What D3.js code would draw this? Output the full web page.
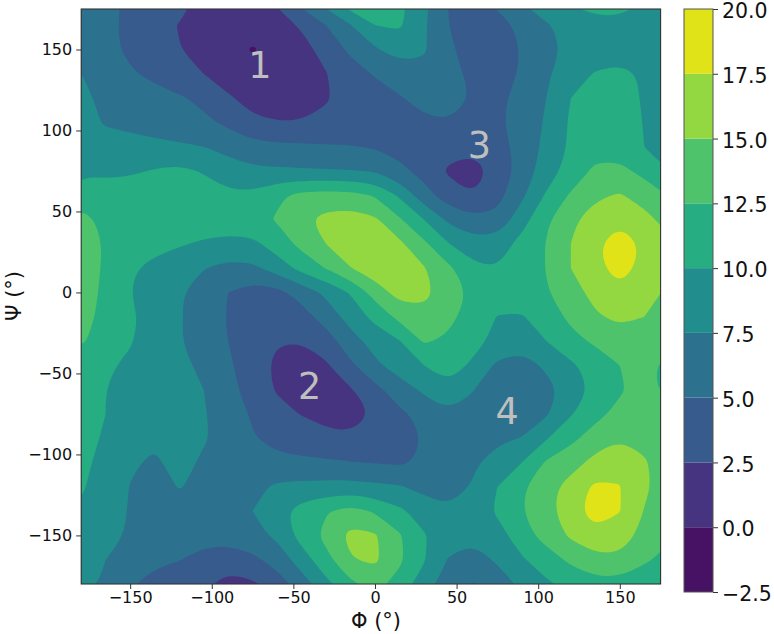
<!DOCTYPE html>
<html>
<head>
<meta charset="utf-8">
<script src="https://cdn.jsdelivr.net/npm/d3@7"></script>
<style>
  html, body { margin: 0; padding: 0; background: #fff; }
  text { font-family: "DejaVu Sans", sans-serif; fill: #111; }
  .tick line, .domain { stroke: #333; }
</style>
</head>
<body>
<div id="chart"></div>
<script>
// Grid axes, one value every 15 degrees
const phi = d3.range(-180, 181, 15);
const psi = d3.range(180, -181, -15);

// Energy, one row per psi (180 down to -180), one column per phi
const energy = [
  [6.3,5.7,4.6,3.8,3.4,1.8,1.0,1.0,2.9,6.0,8.7,11.9,11.9,10.7,8.2,5.0,3.6,6.0,7.6,9.1,10.4,11.7,11.2,10.0,9.5],
  [6.5,5.5,4.5,3.2,2.4,1.5,1.0,0.7,1.5,2.8,5.0,7.4,10.0,10.4,7.8,5.0,3.7,3.6,5.8,7.3,8.2,8.8,9.3,9.2,9.0],
  [6.8,5.7,4.5,3.3,2.6,1.3,0.6,-0.14,0.5,1.7,3.3,5.5,7.2,8.5,7.8,5.5,3.8,3.2,5.2,6.8,8.0,8.5,8.7,8.8,8.8],
  [7.5,6.3,5.3,4.4,3.2,2.5,1.3,0.6,0.5,1.0,2.4,3.9,5.2,6.3,6.8,5.8,4.4,3.6,5.3,7.2,8.8,10.2,10.7,9.7,9.2],
  [8.0,7.0,6.4,5.9,5.3,4.4,2.8,1.7,1.1,1.2,2.3,3.3,3.9,4.8,5.8,6.1,4.9,4.4,5.9,7.5,10.0,11.3,10.8,9.8,9.0],
  [8.2,7.3,7.0,6.6,6.2,5.5,4.5,2.9,2.6,2.6,3.0,3.7,4.1,4.4,4.6,4.9,4.9,4.6,6.0,7.8,10.4,11.6,11.2,9.9,8.9],
  [8.4,8.3,8.2,8.0,7.8,7.5,6.6,5.8,5.5,5.4,5.2,5.1,4.8,4.2,3.6,3.2,3.1,3.9,6.0,8.1,10.4,11.6,11.4,10.0,9.0],
  [9.7,9.4,9.6,10.2,10.6,9.8,8.8,8.0,7.9,7.8,7.7,7.6,7.4,5.6,4.2,2.2,1.4,3.2,6.0,8.8,11.0,13.0,13.1,11.8,10.0],
  [11.2,11.3,11.6,11.7,11.9,11.2,10.4,10.5,12.1,13.2,13.4,13.3,12.3,9.6,6.0,3.6,2.5,4.2,7.0,10.3,12.8,14.6,15.2,14.0,12.4],
  [13.4,11.8,11.6,11.6,11.6,11.6,11.5,11.8,12.7,14.5,15.8,16.1,15.4,12.8,10.0,7.0,5.5,5.6,9.0,12.1,14.6,16.0,17.0,15.8,14.0],
  [14.1,12.2,11.2,10.8,10.3,9.6,9.2,9.4,11.2,13.2,15.0,16.9,17.2,15.5,13.0,10.1,8.5,8.8,10.8,12.6,15.0,17.1,19.0,17.1,15.6],
  [14.0,12.1,10.3,9.3,8.0,7.6,6.8,7.0,8.6,10.8,12.6,14.9,16.6,16.4,15.2,13.0,10.6,10.0,11.0,12.6,15.0,16.9,18.5,16.8,15.5],
  [13.6,12.0,10.0,8.6,7.7,6.4,5.0,3.8,4.3,6.0,8.0,10.2,13.5,16.1,15.6,14.0,12.0,11.0,11.3,12.3,14.0,15.8,16.9,16.4,14.4],
  [13.4,11.8,10.5,9.0,7.7,6.5,4.8,3.6,2.9,3.9,6.2,8.4,10.8,13.2,14.4,13.1,11.5,9.9,9.8,11.3,13.0,14.7,15.5,15.0,13.7],
  [12.8,11.5,10.2,8.6,7.7,6.0,5.0,3.2,2.6,2.6,3.7,6.6,8.4,9.9,12.8,12.1,10.8,9.3,8.8,10.0,11.8,12.9,14.0,14.3,13.5],
  [11.0,10.3,9.6,8.7,8.2,6.9,5.4,3.6,2.0,0.9,2.2,4.5,7.0,8.7,10.0,11.0,9.6,7.0,6.2,8.0,9.6,11.0,12.5,13.2,11.7],
  [10.7,10.0,9.3,8.9,8.3,7.5,6.0,3.7,2.3,1.2,1.0,2.3,4.3,6.2,8.0,9.5,7.6,5.8,5.6,6.6,8.6,10.5,12.2,13.4,11.7],
  [10.6,10.0,9.7,9.2,8.9,7.7,6.3,4.7,3.2,2.4,1.5,1.3,2.7,4.6,5.6,7.2,6.8,6.2,5.7,7.2,9.8,11.8,13.2,14.0,14.0],
  [10.3,9.9,9.0,8.0,8.4,7.8,6.4,5.2,4.1,3.9,3.3,2.9,2.8,3.8,5.1,6.0,6.3,6.9,7.6,9.8,11.9,13.6,14.9,14.5,14.0],
  [10.3,9.6,7.9,7.0,8.6,7.0,6.3,5.8,5.7,5.4,5.3,5.1,4.9,4.6,5.4,6.0,7.0,8.8,10.0,12.8,14.0,15.8,16.8,15.2,14.0],
  [10.2,9.2,7.4,6.7,7.6,7.1,6.4,6.9,7.9,8.2,8.3,8.4,8.0,7.7,6.8,6.1,7.8,10.0,12.2,14.2,15.9,18.0,17.6,15.4,13.9],
  [9.8,8.8,7.3,6.8,6.5,6.3,6.2,7.5,9.2,11.0,12.3,13.5,12.2,10.5,8.9,7.9,8.4,10.4,12.4,14.4,16.2,19.2,17.6,14.9,13.4],
  [9.8,8.4,7.2,6.8,6.4,6.0,6.2,6.7,8.0,11.0,13.2,15.7,15.3,12.8,10.2,8.8,8.2,8.9,11.5,13.5,15.4,16.6,16.0,14.4,13.0],
  [9.4,7.5,6.3,5.5,5.1,4.0,3.3,4.4,6.0,8.7,11.7,14.8,15.5,13.0,10.2,7.3,6.2,7.9,9.7,11.3,13.0,14.4,14.6,13.0,11.5],
  [8.9,6.9,5.2,4.2,3.2,2.9,1.9,2.1,3.8,6.3,9.3,12.0,13.4,11.5,8.8,6.2,4.9,6.2,8.0,9.6,10.8,11.6,11.6,10.4,9.6]
];

// Contour levels and one colour per band
const levels = [-2.5, 0, 2.5, 5, 7.5, 10, 12.5, 15, 17.5, 20];
const bandColors = ["#471164", "#463480", "#375b8d", "#2c728e", "#218e8d", "#26ad81", "#4fc36b", "#94d841", "#dfe318"];
const tickPhi = [-150, -100, -50, 0, 50, 100, 150];
const tickPsi = [-150, -100, -50, 0, 50, 100, 150];
const tickBar = [-2.5, 0, 2.5, 5, 7.5, 10, 12.5, 15, 17.5, 20];

// Numbered basins
const basinNames = ["1", "2", "3", "4"];
const basinPhi = [-70.5, -40, 64, 81];
const basinPsi = [132.4, -66, 83, -81];

const width = 774, height = 634;
const plot = {left: 81.2, right: 660.6, top: 9, bottom: 584};
const bar = {left: 684, right: 713, top: 9, bottom: 592};

const svg = d3.select("#chart").append("svg")
    .attr("width", width)
    .attr("height", height)
    .style("display", "block");

const x = d3.scaleLinear().domain([-180, 175]).range([plot.left, plot.right]);
const y = d3.scaleLinear().domain([-180, 175]).range([plot.bottom, plot.top]);
const barScale = d3.scaleLinear().domain([-2.5, 20]).range([bar.bottom, bar.top]);

svg.append("clipPath").attr("id", "plot-clip")
  .append("rect")
    .attr("x", plot.left)
    .attr("y", plot.top)
    .attr("width", plot.right - plot.left)
    .attr("height", plot.bottom - plot.top);

// d3.contours puts a grid value at the centre of its cell, hence the 0.5
const gridX = g => x(phi[0] + (g - 0.5) * 15);
const gridY = g => y(psi[0] - (g - 0.5) * 15);

const contours = d3.contours()
    .size([phi.length, psi.length])
    .thresholds(levels.slice(0, -1))(energy.flat());

// Rounded off so the 15 degree cells do not show as corners
const ringPath = d3.line()
    .x(p => gridX(p[0]))
    .y(p => gridY(p[1]))
    .curve(d3.curveBasisClosed);

svg.append("g")
    .attr("clip-path", "url(#plot-clip)")
  .selectAll("path")
  .data(contours)
  .join("path")
    .attr("fill", (d, i) => bandColors[i])
    .attr("fill-rule", "evenodd")
    .attr("d", d => d.coordinates
      .flatMap(polygon => polygon.map(ring => ringPath(ring.slice(0, -1))))
      .join(""));

// Basin labels
svg.append("g").selectAll("text")
  .data(basinNames)
  .join("text")
    .attr("x", (d, i) => x(basinPhi[i]))
    .attr("y", (d, i) => y(basinPsi[i]))
    .attr("text-anchor", "middle")
    .attr("font-size", 36.5)
    .style("fill", "#bfbfbf")
    .text(d => d);

// Axes
const xAxis = svg.append("g")
    .attr("transform", `translate(0,${plot.bottom})`)
    .call(d3.axisBottom(x).tickValues(tickPhi).tickSizeOuter(0).tickSize(5).tickPadding(3));
const yAxis = svg.append("g")
    .attr("transform", `translate(${plot.left},0)`)
    .call(d3.axisLeft(y).tickValues(tickPsi).tickSizeOuter(0).tickSize(5).tickPadding(4));
[xAxis, yAxis].forEach(a => {
  a.attr("font-family", null).attr("font-size", null);
  a.selectAll("text").attr("font-size", 16);
  a.select(".domain").remove();
});

svg.append("rect")
    .attr("x", plot.left)
    .attr("y", plot.top)
    .attr("width", plot.right - plot.left)
    .attr("height", plot.bottom - plot.top)
    .attr("fill", "none")
    .attr("stroke", "#333")
    .attr("stroke-width", 1.1);

svg.append("text")
    .attr("x", 376)
    .attr("y", 628)
    .attr("text-anchor", "middle")
    .attr("font-size", 21)
    .text("Φ (°)");

svg.append("text")
    .attr("transform", "translate(21,296) rotate(-90)")
    .attr("text-anchor", "middle")
    .attr("font-size", 21)
    .text("Ψ (°)");

// Colorbar
svg.append("g").selectAll("rect")
  .data(bandColors)
  .join("rect")
    .attr("x", bar.left)
    .attr("width", bar.right - bar.left)
    .attr("y", (d, i) => barScale(levels[i + 1]))
    .attr("height", (d, i) => barScale(levels[i]) - barScale(levels[i + 1]))
    .attr("fill", d => d);

const barAxis = svg.append("g")
    .attr("transform", `translate(${bar.right},0)`)
    .call(d3.axisRight(barScale).tickValues(tickBar).tickFormat(d3.format(".1f")).tickSizeOuter(0).tickSize(5).tickPadding(4));
barAxis.attr("font-family", null).attr("font-size", null);
barAxis.selectAll("text").attr("font-size", 20.5).attr("dy", "0.42em");
barAxis.select(".domain").remove();

svg.append("rect")
    .attr("x", bar.left)
    .attr("y", bar.top)
    .attr("width", bar.right - bar.left)
    .attr("height", bar.bottom - bar.top)
    .attr("fill", "none")
    .attr("stroke", "#555")
    .attr("stroke-width", 1);
</script>
</body>
</html>
